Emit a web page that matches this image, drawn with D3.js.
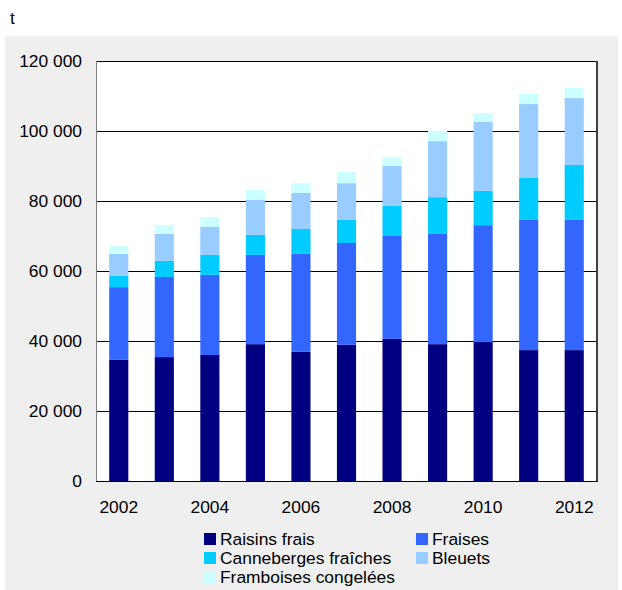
<!DOCTYPE html>
<html>
<head>
<meta charset="utf-8">
<script src="https://cdn.jsdelivr.net/npm/d3@7"></script>
<style>
  body { margin: 0; background: #ffffff; }
  svg { display: block; font-family: "Liberation Sans", Arial, sans-serif; }
</style>
</head>
<body>
<svg id="chart" width="622" height="590"></svg>
<script>
const years = ["2002","2003","2004","2005","2006","2007","2008","2009","2010","2011","2012"];
const seriesNames = ["Raisins frais","Fraises","Canneberges fraîches","Bleuets","Framboises congelées"];
const raisins      = [34600, 35400, 36000, 39100, 36900, 38900, 40600, 39100, 39700, 37400, 37400];
const fraises      = [20800, 22900, 22900, 25500, 28000, 29100, 29400, 31500, 33400, 37200, 37200];
const canneberges  = [3200, 4600, 5700, 5700, 7100, 6600, 8600, 10500, 9800, 12000, 15700];
const bleuets      = [6300, 7700, 8000, 10000, 10300, 10500, 11400, 16000, 19700, 21100, 19100];
const framboises   = [2200, 2500, 2800, 2800, 2800, 3200, 2600, 2900, 2500, 2900, 2900];
const yTicks = [0, 20000, 40000, 60000, 80000, 100000, 120000];
const xTickLabels = ["2002","2004","2006","2008","2010","2012"];
const colors = ["#000080","#3366FF","#00CCFF","#99CCFF","#CCFFFF"];

const svg = d3.select("#chart");
const plot = {left: 96, right: 597, top: 61, bottom: 481};
const fontSize = 17.4;

// gray panel
svg.append("rect").attr("x", 5).attr("y", 36).attr("width", 613).attr("height", 554).attr("fill", "#efefef");
svg.append("text").attr("x", 10).attr("y", 24).attr("font-size", fontSize).attr("fill", "#000").text("t");

// plot background
svg.append("rect").attr("x", plot.left).attr("y", plot.top)
  .attr("width", plot.right - plot.left).attr("height", plot.bottom - plot.top).attr("fill", "#fff");

const x = d3.scaleBand().domain(years).range([plot.left, plot.right]).paddingInner(0.58).paddingOuter(0.29);
const y = d3.scaleLinear().domain([0, 120000]).range([plot.bottom, plot.top]);

// gridlines
svg.append("g").selectAll("line").data(yTicks).join("line")
  .attr("x1", plot.left).attr("x2", plot.right)
  .attr("y1", d => Math.round(y(d)) + 0.5).attr("y2", d => Math.round(y(d)) + 0.5)
  .attr("stroke", "#000").attr("stroke-width", 1);

// stacked data
const rows = years.map((yr, i) => ({
  year: yr,
  [seriesNames[0]]: raisins[i],
  [seriesNames[1]]: fraises[i],
  [seriesNames[2]]: canneberges[i],
  [seriesNames[3]]: bleuets[i],
  [seriesNames[4]]: framboises[i]
}));
const stack = d3.stack().keys(seriesNames)(rows);

svg.append("g").selectAll("g").data(stack).join("g")
  .attr("fill", (d, i) => colors[i])
  .selectAll("rect").data(d => d).join("rect")
  .attr("x", d => x(d.data.year))
  .attr("width", x.bandwidth())
  .attr("y", d => y(d[1]))
  .attr("height", d => y(d[0]) - y(d[1]));

// border
svg.append("line").attr("x1", plot.left + 0.5).attr("x2", plot.left + 0.5).attr("y1", plot.top).attr("y2", plot.bottom + 1)
  .attr("stroke", "#808080").attr("stroke-width", 1);
svg.append("line").attr("x1", plot.right).attr("x2", plot.right).attr("y1", plot.top).attr("y2", plot.bottom + 1)
  .attr("stroke", "#404040").attr("stroke-width", 2);
svg.append("line").attr("x1", plot.left).attr("x2", plot.right).attr("y1", plot.bottom + 0.5).attr("y2", plot.bottom + 0.5)
  .attr("stroke", "#000").attr("stroke-width", 1);

// y axis labels
const fmt = d => d3.format(",")(d).replace(/,/g, " ");
svg.append("g").selectAll("text").data(yTicks).join("text")
  .attr("x", 82).attr("y", d => y(d)).attr("dy", "0.35em")
  .attr("text-anchor", "end").attr("font-size", fontSize).attr("fill", "#000")
  .text(fmt);

// x axis labels
svg.append("g").selectAll("text").data(xTickLabels).join("text")
  .attr("x", d => x(d) + x.bandwidth() / 2).attr("y", 513)
  .attr("text-anchor", "middle").attr("font-size", fontSize).attr("fill", "#000")
  .text(d => d);

// legend
const legendPos = [
  {x: 204, y: 533}, {x: 416, y: 533},
  {x: 204, y: 552}, {x: 416, y: 552},
  {x: 204, y: 571}
];
const lg = svg.append("g").selectAll("g").data(seriesNames).join("g")
  .attr("transform", (d, i) => `translate(${legendPos[i].x},${legendPos[i].y})`);
lg.append("rect").attr("width", 12).attr("height", 12).attr("fill", (d, i) => colors[i]);
lg.append("text").attr("x", 16).attr("y", 12).attr("font-size", fontSize).attr("fill", "#000").text(d => d);
</script>
</body>
</html>
